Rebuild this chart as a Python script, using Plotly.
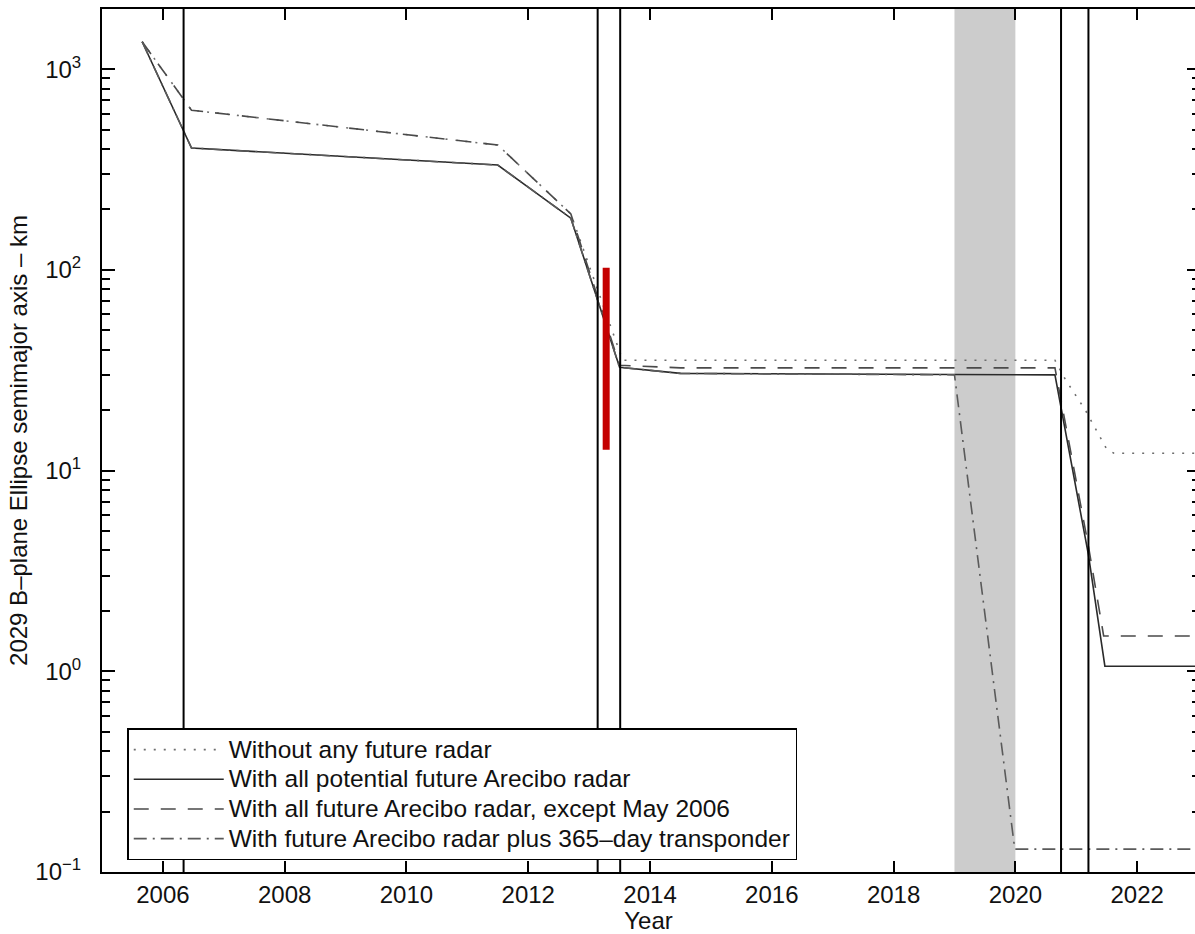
import plotly.graph_objects as go

# Epoch (decimal year) and 2029 B-plane ellipse semimajor axis (km) for each scenario
no_radar_year = [2005.66, 2006.47, 2011.5, 2012.7, 2013.55, 2020.65, 2020.82, 2021.15, 2021.35, 2021.5, 2021.62, 2022.95]
no_radar_km = [1370, 625, 419, 190, 35.5, 35.5, 28.5, 20.0, 15.5, 12.8, 12.2, 12.2]

all_radar_year = [2005.66, 2006.47, 2011.5, 2012.7, 2013.5, 2014.5, 2020.65, 2021.2, 2021.47, 2022.95]
all_radar_km = [1370, 405, 333, 181, 32.7, 30.5, 30.0, 3.8, 1.06, 1.06]

no_may06_year = [2005.66, 2006.47, 2011.5, 2012.7, 2013.5, 2014.5, 2020.65, 2021.2, 2021.45, 2022.95]
no_may06_km = [1370, 625, 419, 190, 33.5, 32.5, 32.5, 4.2, 1.5, 1.5]

transponder_year = [2005.66, 2006.47, 2011.5, 2012.7, 2013.5, 2014.5, 2019.0, 2019.99, 2022.95]
transponder_km = [1370, 405, 333, 181, 32.7, 30.5, 30.0, 0.13, 0.13]

# Radar opportunities and transponder tracking window
radar_epochs = [2006.34, 2013.14, 2013.51, 2020.75, 2021.20]
transponder_window = [2019.0, 2020.0]

# Highlighted uncertainty bar
bar_year = [2013.28, 2013.28]
bar_km = [12.7, 102.6]

series_names = [
    "Without any future radar",
    "With all potential future Arecibo radar",
    "With all future Arecibo radar, except May 2006",
    "With future Arecibo radar plus 365\u2013day transponder",
]

x_ticks = [2006, 2008, 2010, 2012, 2014, 2016, 2018, 2020, 2022]
y_ticks = [0.1, 1, 10, 100, 1000]
y_tick_text = ["10<sup>\u22121</sup>", "10<sup>0</sup>", "10<sup>1</sup>", "10<sup>2</sup>", "10<sup>3</sup>"]

X_RANGE = [2005.0, 2022.95]
Y_RANGE = [-1, 3.3]

FONT = "Liberation Sans, Arial, Helvetica, sans-serif"
TEXT = "#111111"


def legend_label(s):
    return '<span style="font-size:24.5px">' + s + "</span>"


fig = go.Figure()

styles = [
    (no_radar_year, no_radar_km, "#6e6e6e", "2px,8px"),
    (all_radar_year, all_radar_km, "#2a2a2a", "solid"),
    (no_may06_year, no_may06_km, "#4a4a4a", "15px,12px"),
    (transponder_year, transponder_km, "#5a5a5a", "13px,6px,2px,6px"),
]
for (xs, ys, col, dash), name in zip(styles, series_names):
    fig.add_trace(go.Scatter(
        x=xs, y=ys, mode="lines", name=legend_label(name),
        line=dict(color=col, width=1.6, dash=dash),
        hoverinfo="skip",
    ))

# Red bar is plotted against the right-hand (mirrored) log axis, which shares the same range
fig.add_trace(go.Scatter(
    x=bar_year, y=bar_km, mode="lines", showlegend=False, yaxis="y2",
    line=dict(color="#c40000", width=7), hoverinfo="skip",
))

# Transponder window shading
fig.add_shape(type="rect", xref="x", yref="y domain",
              x0=transponder_window[0], x1=transponder_window[1], y0=0, y1=1,
              fillcolor="#cccccc", line=dict(width=0), layer="below")

# Radar epochs
for yr in radar_epochs:
    fig.add_shape(type="line", xref="x", yref="y domain", x0=yr, x1=yr, y0=0, y1=1,
                  line=dict(color="black", width=2), layer="above")

fig.update_layout(
    width=1195, height=934,
    margin=dict(l=102, r=0, t=9, b=62),
    plot_bgcolor="white", paper_bgcolor="white",
    font=dict(family=FONT, size=24, color=TEXT),
    legend=dict(
        x=0.0231, y=0.1665, xanchor="left", yanchor="top",
        bgcolor="white", bordercolor="black", borderwidth=1.5,
        itemwidth=90, font=dict(size=20.5, color=TEXT),
        traceorder="normal", tracegroupgap=0,
    ),
    xaxis=dict(
        range=X_RANGE, tickmode="array", tickvals=x_ticks,
        ticks="inside", ticklen=11, tickwidth=1.5, tickcolor="black",
        showline=True, linecolor="black", linewidth=2, mirror="ticks",
        showgrid=False, zeroline=False, automargin=False,
        tickfont=dict(size=24, color=TEXT), ticklabelstandoff=0,
        title=dict(text="Year", font=dict(size=24, color=TEXT), standoff=12),
    ),
    yaxis=dict(
        type="log", range=Y_RANGE, tickmode="array", tickvals=y_ticks, ticktext=y_tick_text,
        ticks="inside", ticklen=13, tickwidth=1.5, tickcolor="black",
        showline=True, linecolor="black", linewidth=2,
        showgrid=False, zeroline=False, automargin=False,
        minor=dict(ticks="inside", ticklen=8, tickwidth=1.5, tickcolor="black", dtick="D1", showgrid=False),
        tickfont=dict(size=24, color=TEXT), ticklabelstandoff=14,
        title=dict(text="2029 B\u2013plane Ellipse semimajor axis \u2013 km", font=dict(size=24, color=TEXT), standoff=1),
    ),
    yaxis2=dict(
        type="log", range=Y_RANGE, overlaying="y", side="right", anchor="x",
        tickmode="array", tickvals=y_ticks, showticklabels=False,
        ticks="inside", ticklen=8, tickwidth=2, tickcolor="black",
        showline=False, showgrid=False, zeroline=False, automargin=False,
        minor=dict(ticks="inside", ticklen=3, tickwidth=2, tickcolor="black", dtick="D1", showgrid=False),
    ),
)

fig.write_html("out.html")
